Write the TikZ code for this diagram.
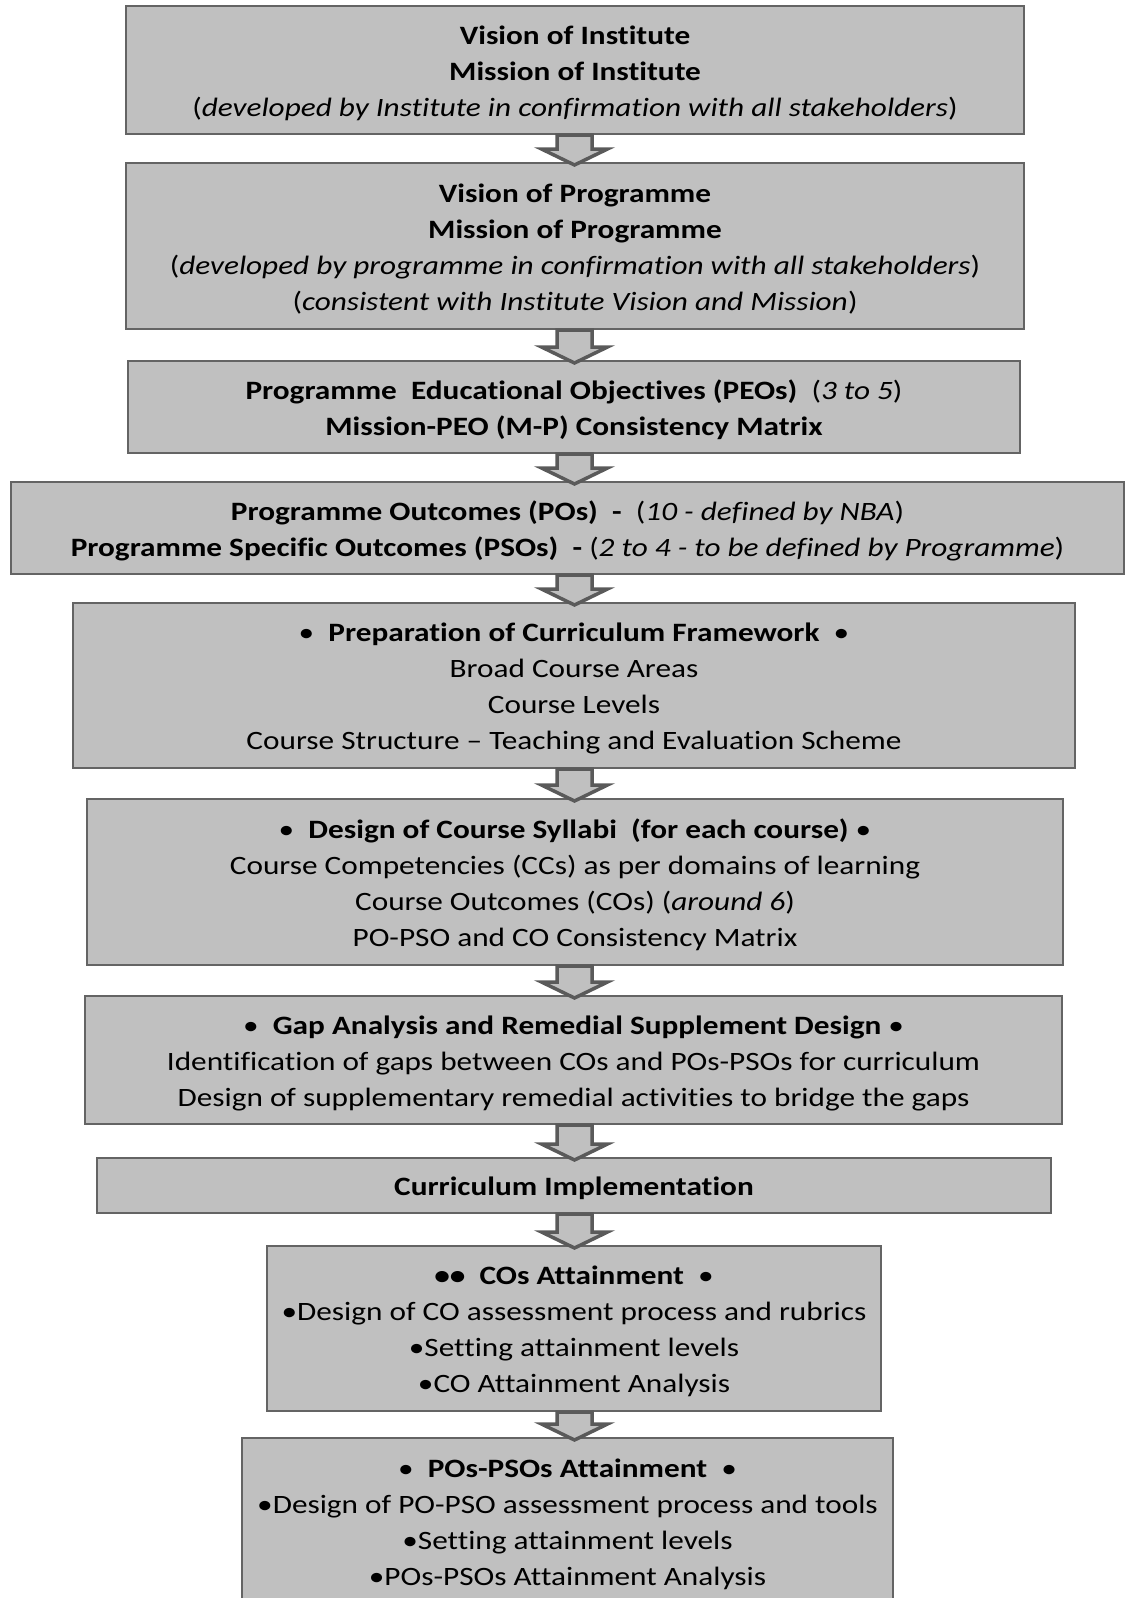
\documentclass[tikz,border=0pt]{standalone}
\usepackage{fontspec}
\setmainfont{Carlito}[FakeStretch=1.18, Ligatures=NoCommon]
\usetikzlibrary{calc}

\definecolor{boxgray}{HTML}{C0C0C0}
\definecolor{edgegray}{HTML}{646464}
\definecolor{arrgray}{HTML}{5A5A5A}

% struts to keep the text block even inside each box
\newcommand\hstrut{\rule{0pt}{27pt}}
\newcommand\dstrut{\rule[-7pt]{0pt}{7pt}}

\begin{document}
\begin{tikzpicture}[x=1pt,y=1pt,
    stagebox/.style={draw=edgegray, line width=2pt, fill=boxgray,
      inner sep=0pt, align=center,
      font=\fontsize{26.5}{36}\selectfont},
    blockarr/.style={draw=arrgray, fill=boxgray, line width=3.5pt,
      line join=miter}
  ]

  % Frame of the page
  \useasboundingbox (0,0) rectangle (1125,-1598);
  \clip (0,0) rectangle (1125,-1598);

  % Define boxes
  \node[stagebox, minimum width=898, minimum height=128] (inst) at (575,-70)
    {\hstrut\textbf{Vision of Institute}\\
     \textbf{Mission of Institute}\\
     (\textit{developed by Institute in confirmation with all stakeholders})\dstrut};

  \node[stagebox, minimum width=898, minimum height=166] (prog) at (575,-246)
    {\hstrut\textbf{Vision of Programme}\\
     \textbf{Mission of Programme}\\
     (\textit{developed by programme in confirmation with all stakeholders})\\
     (\textit{consistent with Institute Vision and Mission})\dstrut};

  \node[stagebox, minimum width=892, minimum height=92] (peo) at (574,-407)
    {\hstrut\textbf{Programme\ \ Educational Objectives (PEOs)}\ \ (\textit{3 to 5})\\
     \textbf{Mission-PEO (M-P) Consistency Matrix}\dstrut};

  \node[stagebox, minimum width=1113, minimum height=92] (po) at (567.5,-528)
    {\hstrut\textbf{Programme Outcomes (POs)}\ \ \textbf{-}\ \ (\textit{10 - defined by NBA})\\
     \textbf{Programme Specific Outcomes (PSOs)}\ \ \textbf{-} (\textit{2 to 4 - to be defined by Programme})\dstrut};

  \node[stagebox, minimum width=1002, minimum height=165] (frame) at (574,-685.5)
    {\hstrut•\ \ \textbf{Preparation of Curriculum Framework}\ \ •\\
     Broad Course Areas\\
     Course Levels\\
     Course Structure – Teaching and Evaluation Scheme\dstrut};

  \node[stagebox, minimum width=976, minimum height=166] (syll) at (575,-882)
    {\hstrut•\ \ \textbf{Design of Course Syllabi\ \ (for each course)} •\\
     Course Competencies (CCs) as per domains of learning\\
     Course Outcomes (COs) (\textit{around 6})\\
     PO-PSO and CO Consistency Matrix\dstrut};

  \node[stagebox, minimum width=977, minimum height=128] (gap) at (573.5,-1060)
    {\hstrut•\ \ \textbf{Gap Analysis and Remedial Supplement Design} •\\
     Identification of gaps between COs and POs-PSOs for curriculum\\
     Design of supplementary remedial activities to bridge the gaps\dstrut};

  \node[stagebox, minimum width=954, minimum height=55] (impl) at (574,-1185.5)
    {\hstrut\textbf{Curriculum Implementation}\dstrut};

  \node[stagebox, minimum width=614, minimum height=165] (coatt) at (574,-1328.5)
    {\hstrut\textbf{••}\ \ \textbf{COs Attainment}\ \ •\\
     •Design of CO assessment process and rubrics\\
     •Setting attainment levels\\
     •CO Attainment Analysis\dstrut};

  \node[stagebox, minimum width=651, minimum height=166] (poatt) at (567.5,-1521)
    {\hstrut•\ \ \textbf{POs-PSOs Attainment}\ \ •\\
     •Design of PO-PSO assessment process and tools\\
     •Setting attainment levels\\
     •POs-PSOs Attainment Analysis\dstrut};

  % Draw block arrows between the boxes
  \foreach \a/\b in {inst/prog, prog/peo, peo/po, po/frame, frame/syll,
                     syll/gap, gap/impl, impl/coatt, coatt/poatt} {
    \draw[blockarr] let \p1=(\a.south), \p2=(\b.north) in
      (557,\y1) -- (557,{\y2+13pt}) -- (541.5,{\y2+13pt}) -- (574.5,{\y2-3pt})
      -- (607.5,{\y2+13pt}) -- (592,{\y2+13pt}) -- (592,\y1) -- cycle;
  }

\end{tikzpicture}
\end{document}
